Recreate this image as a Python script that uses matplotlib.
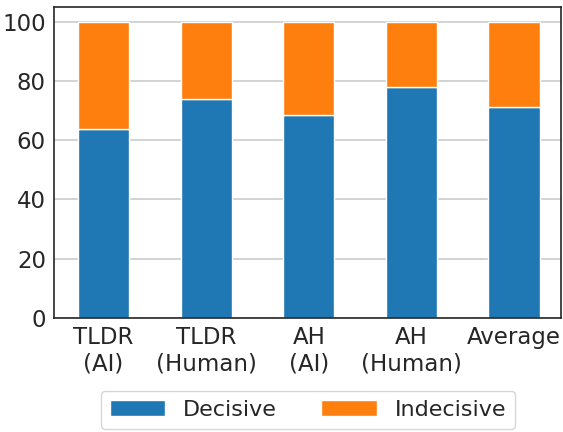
import numpy as np
import matplotlib.pyplot as plt

categories = ['TLDR\n(AI)', 'TLDR\n(Human)', 'AH\n(AI)', 'AH\n(Human)', 'Average']
decisive = [63.7, 73.8, 68.6, 77.9, 71.0]
indecisive = [100 - d for d in decisive]

plt.rcParams['font.family'] = 'DejaVu Sans'
plt.rcParams['text.color'] = '#262626'
plt.rcParams['xtick.color'] = '#262626'
plt.rcParams['ytick.color'] = '#262626'

fig = plt.figure(figsize=(5.63, 4.32), dpi=100)
ax = fig.add_axes([0.0964, 0.2644, 0.9005, 0.7201])

x = np.arange(len(categories))
ax.bar(x, decisive, width=0.5, color='#1f77b4', edgecolor='white', linewidth=1, label='Decisive', zorder=2)
ax.bar(x, indecisive, width=0.5, bottom=decisive, color='#ff7f0e', edgecolor='white', linewidth=1,
       label='Indecisive', zorder=2)

ax.set_xlim(-0.48, 4.46)
ax.set_ylim(0, 105)
ax.set_yticks([0, 20, 40, 60, 80, 100])
ax.set_xticks(x)
ax.set_xticklabels(categories)
ax.tick_params(axis='both', labelsize=16.5, length=0, pad=6)
ax.yaxis.grid(True, color='#cccccc', linewidth=1.2, zorder=0)
ax.set_axisbelow(True)
for s in ax.spines.values():
    s.set_color('#262626')
    s.set_linewidth(1.2)

# legend centred under the axes
fig.legend(loc='upper center', bbox_to_anchor=(0.547, 0.095), ncol=2, fontsize=16,
           frameon=True, edgecolor='#cccccc', fancybox=True, columnspacing=2.0, handlelength=2.5,
           borderaxespad=0)

fig.savefig('out.png', dpi=100)
